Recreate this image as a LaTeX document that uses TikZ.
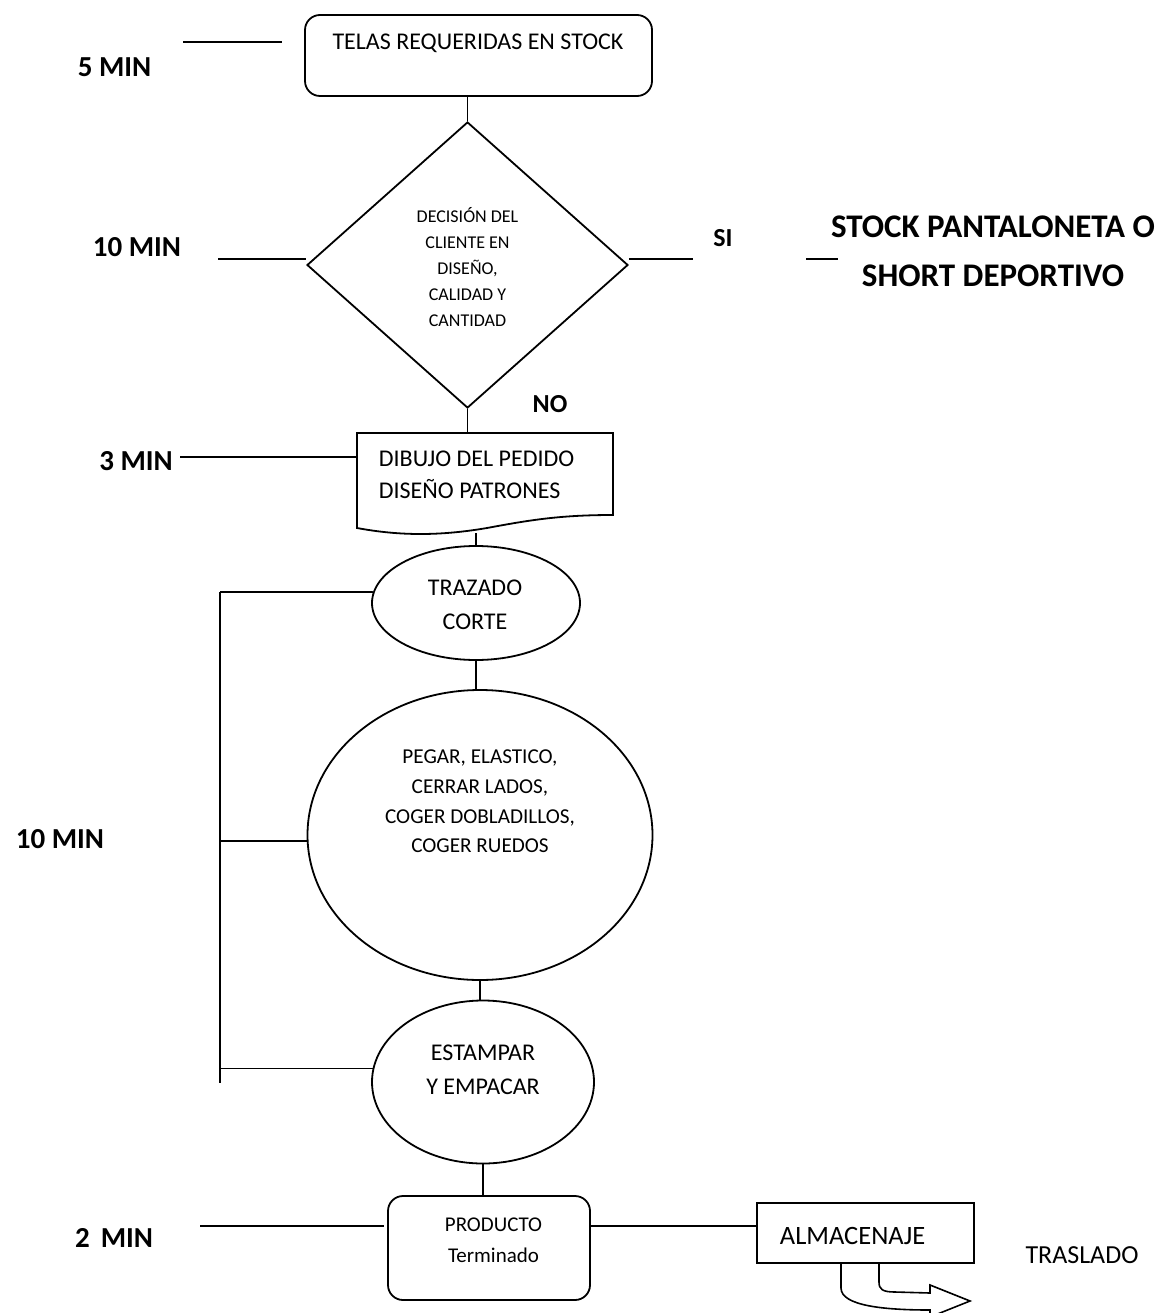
\documentclass[tikz,border=0pt]{standalone}
\usepackage{fontspec}
\setmainfont{Carlito}
\usetikzlibrary{shapes.geometric,calc}
\newcommand{\fsz}[2]{\fontsize{#1}{#2}\selectfont}
\begin{document}
\begin{tikzpicture}[x=1pt,y=-1pt,line width=1.8pt,
  box/.style={draw,inner sep=0pt},
  rbox/.style={draw,rounded corners=15pt,inner sep=0pt},
  oval/.style={draw,ellipse,inner sep=0pt},
  lbl/.style={inner sep=0pt,align=center},
  minlbl/.style={inner sep=0pt,anchor=base,font=\bfseries\fsz{29}{34}}]
\useasboundingbox (0,0) rectangle (1168,1313);

% shapes
\node[rbox,minimum width=347pt,minimum height=81pt] (telas) at (478.5,55.5) {};
\node[inner sep=0pt,anchor=base,font=\fsz{24}{28}] (telasT) at (478,50) {TELAS REQUERIDAS EN STOCK};

\node[draw,diamond,inner sep=0pt,minimum width=321pt,minimum height=286pt] (dec) at (467.5,265) {};
\node[lbl,font=\fsz{18}{26}] (decT) at (467.5,267.5) {DECISIÓN DEL\\CLIENTE EN\\DISEÑO,\\CALIDAD Y\\CANTIDAD};

\node[inner sep=0pt,minimum width=256pt,minimum height=95pt] (doc) at (485,480.5) {};
\draw (357,528) -- (357,433) -- (613,433) -- (613,515)
  .. controls (560,515) and (530,520) .. (487,528)
  .. controls (440,536) and (400,536) .. (357,528) -- cycle;
\node[inner sep=0pt,align=left,anchor=west,font=\fsz{24}{32}] (docT) at (378,475) {DIBUJO DEL PEDIDO\\DISEÑO PATRONES};
\coordinate (docb) at (476,533);

\node[oval,minimum width=208pt,minimum height=114pt] (traz) at (476,603) {};
\node[lbl,font=\fsz{24}{34}] (trazT) at (475,605) {TRAZADO\\CORTE};

\node[oval,minimum width=345pt,minimum height=290pt] (cost) at (480,835) {};
\node[lbl,font=\fsz{21.2}{29.7}] (costT) at (480,801.5) {PEGAR, ELASTICO,\\CERRAR LADOS,\\COGER DOBLADILLOS,\\COGER RUEDOS};

\node[oval,minimum width=222pt,minimum height=163pt] (estam) at (483,1082) {};
\node[lbl,font=\fsz{24}{34}] (estamT) at (483,1070) {ESTAMPAR\\Y EMPACAR};

\node[rbox,minimum width=202pt,minimum height=104pt] (prod) at (489,1248) {};
\node[lbl,font=\fsz{21}{31}] (prodT) at (493.5,1240.5) {PRODUCTO\\Terminado};

\node[box,minimum width=217pt,minimum height=60pt] (alm) at (865.5,1233) {};
\node[inner sep=0pt,anchor=base west,font=\fsz{26.5}{30}] (almT) at (779,1244) {ALMACENAJE};

% connectors
\draw (telas.south -| dec.north) -- (dec.north);
\draw (dec.south) -- (dec.south |- doc.north);
\draw (traz.north) -- (traz.north |- docb);
\draw (traz.south) -- (traz.south |- cost.north);
\draw (cost.south) -- (cost.south |- estam.north);
\draw (estam.south) -- (estam.south |- prod.north);
\draw ([yshift=22pt]prod.east) coordinate (pa) -- (pa -| alm.west);

% time lines
\coordinate (m5a) at (183,42); \coordinate (m5b) at (282,42);
\draw (m5a) -- (m5b);
\coordinate (m10) at (218,259);
\draw (m10) -- (m10 -| dec.west);
\coordinate (sie) at (693,259);
\draw (sie -| dec.east) -- (sie);
\coordinate (s1) at (806,259); \coordinate (s2) at (838,259);
\draw (s1) -- (s2);
\coordinate (m3) at (180,457);
\draw (m3) -- (m3 -| doc.west);
\coordinate (m2) at (200,1226);
\draw (m2) -- ([xshift=-3pt]m2 -| prod.west);

% bracket
\coordinate (brT) at (220,592);
\coordinate (brB) at (220,1083);
\draw (brT) -- (brB);
\draw (brT) -- (brT -| traz.west) -- (traz.174);
\draw (cost.182 -| brT) -- (cost.182);
\draw (estam.173 -| brT) -- (estam.173);

% bent arrow
\draw[line width=1.6pt] (alm.south -| 841,0) -- (841,1288)
  .. controls (841,1306) and (885,1310) .. (930,1310)
  -- (930,1317) -- (970,1301) -- (930,1285) -- (930,1293)
  -- (895,1292) .. controls (882,1292) and (879,1289) .. (879,1282)
  -- (alm.south -| 879,0);

% labels
\node[minlbl] (l5) at (114.5,77) {5 MIN};
\node[minlbl] (l10a) at (137,257) {10 MIN};
\node[minlbl] (l3) at (136,470) {3 MIN};
\node[minlbl] (l10b) at (60,848) {10 MIN};
\node[minlbl] (l2) at (114,1247) {2\hspace{0.38em}MIN};
\node[inner sep=0pt,anchor=base,font=\bfseries\fsz{26}{30}] (si) at (723,247) {SI};
\node[inner sep=0pt,anchor=base,font=\bfseries\fsz{26}{30}] (no) at (550,412) {NO};
\node[lbl,font=\bfseries\fsz{33}{49}] (stock) at (993,251.5) {STOCK PANTALONETA O\\SHORT DEPORTIVO};
\node[inner sep=0pt,anchor=base,font=\fsz{26}{30}] (tras) at (1082,1263) {TRASLADO};
\end{tikzpicture}
\end{document}
